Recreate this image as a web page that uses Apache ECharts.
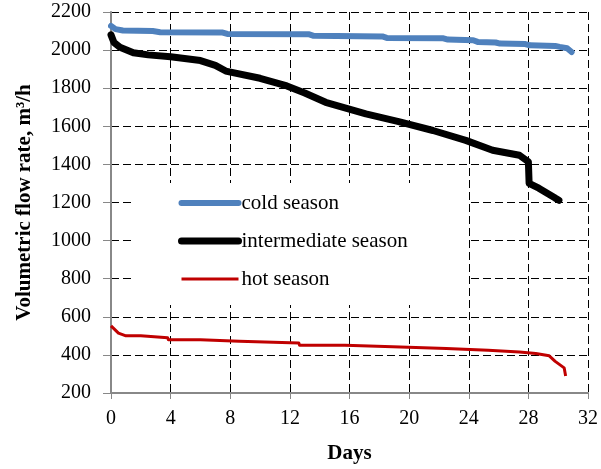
<!DOCTYPE html>
<html>
<head>
<meta charset="utf-8">
<script src="https://cdn.jsdelivr.net/npm/echarts@6/dist/echarts.min.js"></script>
<style>
  html, body { margin: 0; padding: 0; background: #fff; }
  #chart { width: 601px; height: 469px; }
</style>
</head>
<body>
<div id="chart"></div>
<script>
// values: [day, m3/h]
const coldSeason = [
  [0, 2127], [0.3, 2110], [0.8, 2103], [2.8, 2100], [3.3, 2094], [7.5, 2092],
  [7.8, 2085], [13.3, 2083], [13.6, 2075], [18.2, 2072], [18.5, 2064], [22.3, 2062],
  [22.6, 2055], [24.3, 2052], [24.6, 2043], [25.8, 2040], [26.1, 2034], [27.8, 2032],
  [28.1, 2025], [29.8, 2022], [30.1, 2017], [30.6, 2010], [30.9, 1990]
];
const intermediateSeason = [
  [0, 2080], [0.2, 2040], [0.6, 2015], [1.5, 1986], [2.5, 1975], [4.0, 1965],
  [6.0, 1945], [7.0, 1920], [7.7, 1890], [10, 1852], [11.8, 1812], [13, 1775],
  [14.4, 1726], [17.1, 1665], [19.3, 1625], [21.6, 1578], [23.8, 1526], [25.6, 1474],
  [27.4, 1448], [28.0, 1414], [28.05, 1301], [28.7, 1275], [29.8, 1223], [30.05, 1212]
];
const hotSeason = [
  [0, 552], [0.5, 514], [1.0, 500], [2.0, 500], [2.05, 490], [3.8, 490], [3.85, 479],
  [6.0, 479], [6.05, 472], [8.6, 472], [8.65, 462], [12.6, 462], [12.65, 451], [15.7, 451],
  [15.75, 443], [18.9, 443], [18.95, 434], [22.5, 434], [22.55, 425], [25.3, 425],
  [25.35, 415], [27.4, 415], [27.45, 407], [28.5, 407], [28.55, 397], [29.4, 395],
  [29.8, 366], [30.4, 332], [30.5, 289]
];
const seriesNames = ['cold season', 'intermediate season', 'hot season'];
const seriesColors = ['#4F81BD', '#000000', '#C00000'];
const seriesWidths = [6, 7, 3];
const seriesCaps = ['round', 'round', 'butt'];

const font = 'Liberation Serif';
const chart = echarts.init(document.getElementById('chart'));

const dashed = { show: true, lineStyle: { color: '#000', width: 1, type: [8, 4] } };
const axisLine = { show: true, lineStyle: { color: '#888', width: 2 } };

chart.setOption({
  animation: false,
  grid: { left: 111, right: 12, top: 12, bottom: 72 },
  legend: {
    orient: 'vertical',
    left: 132,
    top: 183,
    padding: [8, 60, 14, 46],
    backgroundColor: '#fff',
    itemWidth: 57,
    itemHeight: 14,
    itemGap: 14,
    textStyle: { fontFamily: font, fontSize: 21, color: '#000', lineHeight: 24, padding: [0, 0, 0, -2] },
    data: seriesNames.map((n, i) => ({
      name: n,
      itemStyle: { opacity: 0, borderWidth: 0 },
      lineStyle: { width: seriesWidths[i], color: seriesColors[i], cap: seriesCaps[i], opacity: 1 }
    }))
  },
  xAxis: {
    type: 'value',
    min: 0,
    max: 32,
    interval: 4,
    name: 'Days',
    nameLocation: 'middle',
    nameGap: 50,
    nameTextStyle: { fontFamily: font, fontSize: 21, fontWeight: 'bold', color: '#000' },
    axisLine: axisLine,
    axisTick: { show: true, length: 6, lineStyle: { color: '#888', width: 1 } },
    axisLabel: { fontFamily: font, fontSize: 20, color: '#000', margin: 16 },
    splitLine: dashed
  },
  yAxis: {
    type: 'value',
    min: 200,
    max: 2200,
    interval: 200,
    name: 'Volumetric flow rate, m³/h',
    nameLocation: 'middle',
    nameGap: 76,
    nameTextStyle: { fontFamily: font, fontSize: 21, fontWeight: 'bold', color: '#000' },
    axisLine: axisLine,
    axisTick: { show: true, length: 8, lineStyle: { color: '#888', width: 1 } },
    axisLabel: { fontFamily: font, fontSize: 20, color: '#000', margin: 20, formatter: v => String(v) },
    splitLine: dashed
  },
  series: [coldSeason, intermediateSeason, hotSeason].map((d, i) => ({
    name: seriesNames[i],
    type: 'line',
    data: d,
    symbol: 'none',
    lineStyle: { color: seriesColors[i], width: seriesWidths[i], cap: seriesCaps[i], join: 'round' },
    itemStyle: { color: seriesColors[i] }
  }))
});
</script>
</body>
</html>
